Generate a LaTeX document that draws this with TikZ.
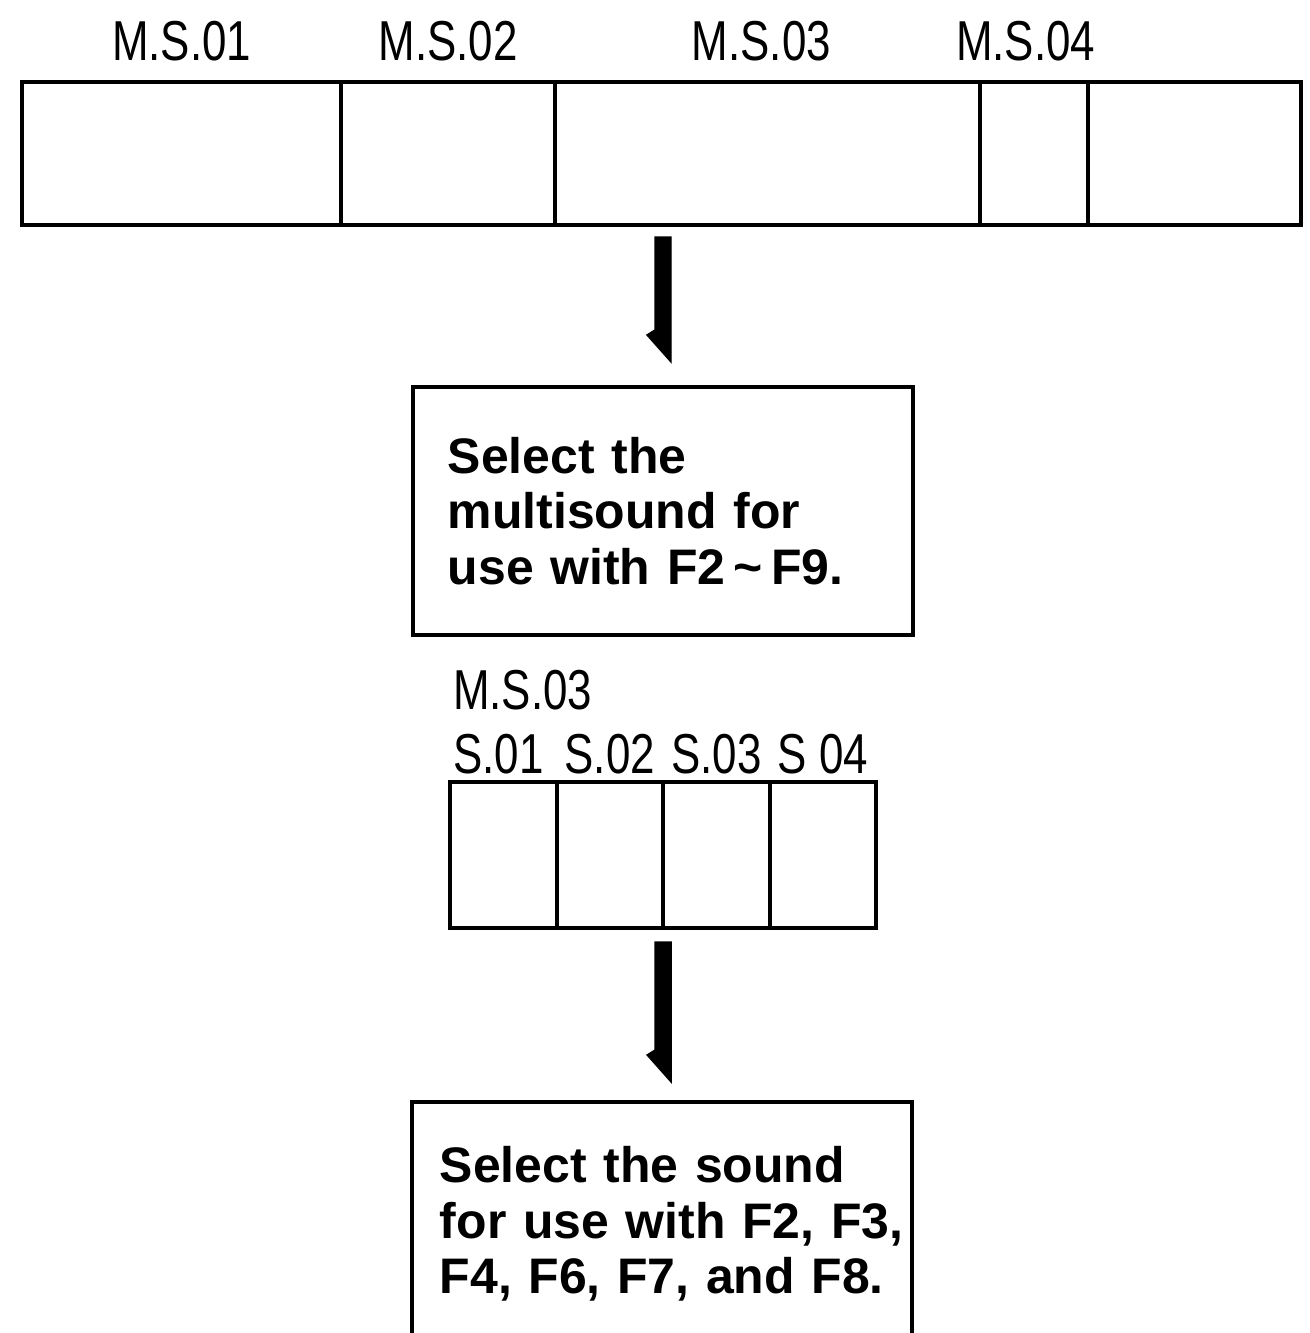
\documentclass[tikz,border=0pt]{standalone}
\usepackage{fontspec}
\setmainfont{Liberation Sans}
\newfontfamily\narrowfont{Liberation Sans}[FakeStretch=0.78]
\usetikzlibrary{positioning, calc}

\begin{document}
\begin{tikzpicture}[x=0.01cm, y=-0.01cm, node distance=2mm,
        cell/.style={draw, line width=1.1pt, inner sep=0pt, outer sep=0pt,
            minimum height=1.43cm},
        subcell/.style={draw, line width=1.1pt, inner sep=0pt, outer sep=0pt,
            minimum width=1.065cm, minimum height=1.46cm},
        lbl/.style={font=\narrowfont\fontsize{16}{18}\selectfont, inner sep=0pt},
        note/.style={draw, line width=1pt, inner sep=0pt, align=left,
            font=\bfseries\fontsize{14.2}{15.8}\selectfont, minimum width=5cm},
        halfarrow/.style={fill, to path={($(\tikztostart)+(-0.8mm,0mm)$)
            -- ($(\tikztotarget)+(-0.8mm,3.2mm)$) -- ($(\tikztotarget)+(-1.6mm,2.7mm)$)
            -- ($(\tikztotarget)+(0.8mm,0mm)$) -- ($(\tikztostart)+(0.8mm,0mm)$) -- cycle}}]
    \useasboundingbox (0,0) rectangle (1310,1333);
    % multisound bar
    \node[cell, minimum width=3.19cm, anchor=north west] (c1) at (22,82) {};
    \node[cell, minimum width=2.14cm, right=0pt of c1] (c2) {};
    \node[cell, minimum width=4.24cm, right=0pt of c2] (c3) {};
    \node[cell, minimum width=1.08cm, right=0pt of c3] (c4) {};
    \node[cell, minimum width=2.13cm, right=0pt of c4] (c5) {};
    \node[lbl, above=of c1] (l1) {M.S.01};
    \node[lbl, above=of c2] (l2) {M.S.02};
    \node[lbl, above=of c3, xshift=-0.6mm] (l3) {M.S.03};
    \node[lbl, above=of c4, xshift=-0.8mm] (l4) {M.S.04};
    \node[note, text width=4.3cm, minimum height=2.48cm, anchor=north] (sel) at (663,385)
        {Select the\\multisound for\\use with F2\,\textasciitilde\,F9.};
    % sounds of M.S.03
    \node[subcell, anchor=north west] (s1) at (450,782) {};
    \node[subcell, right=0pt of s1] (s2) {};
    \node[subcell, right=0pt of s2] (s3) {};
    \node[subcell, right=0pt of s3] (s4) {};
    \node[lbl, above=0.7mm of s1, xshift=-0.5mm] (sl1) {S.01};
    \node[lbl, above=0.7mm of s2] (sl2) {S.02};
    \node[lbl, above=0.7mm of s3] (sl3) {S.03};
    \node[lbl, above=0.7mm of s4] (sl4) {S 04};
    \node[lbl, above=2.3mm of sl1.north west, anchor=south west] (sub) {M.S.03};
    \node[note, text width=4.44cm, minimum height=2.44cm, anchor=north] (snd) at (662,1100)
        {Select the sound\\\mbox{for use with F2, F3,}\\\mbox{F4, F6, F7, and F8.}};
    % arrows
    \coordinate (a1s) at ([yshift=-1.2mm]c3.south -| sel.north);
    \coordinate (a1e) at ([yshift=2.3mm]sel.north);
    \coordinate (a2s) at ([yshift=-1.4mm]s3.south west);
    \coordinate (a2e) at ([yshift=1.8mm]snd.north -| a2s);
    \draw[halfarrow] (a1s) to (a1e);
    \draw[halfarrow] (a2s) to (a2e);
\end{tikzpicture}
\end{document}
